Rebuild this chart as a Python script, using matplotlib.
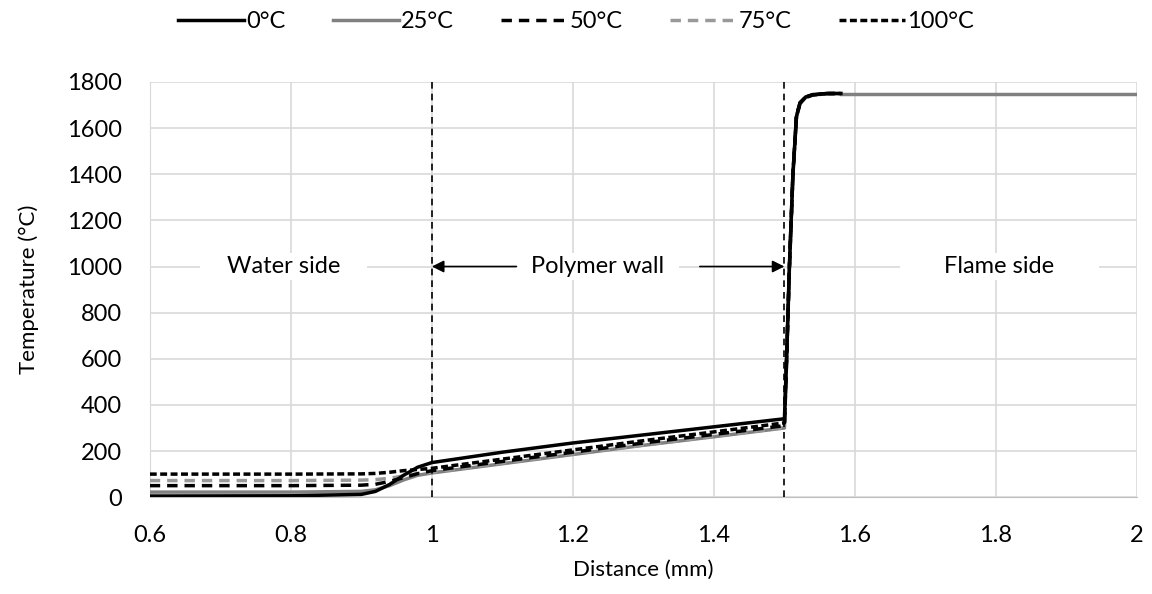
import matplotlib.pyplot as plt

plt.rcParams['font.family'] = ['Lato', 'DejaVu Sans']

# distance (mm) and temperature (°C)
x_wall = [0.60, 0.80, 0.90, 0.92, 0.94, 0.96, 0.98, 1.00, 1.10, 1.20, 1.30, 1.40, 1.50,
          1.503, 1.507, 1.512, 1.517, 1.522, 1.53, 1.54, 1.56, 1.58]
t_0 = [5, 6, 12, 25, 55, 95, 130, 150, 195, 235, 270, 305, 340,
       600, 1000, 1400, 1650, 1710, 1735, 1745, 1750, 1750]
t_25 = [22, 22, 25, 32, 50, 75, 95, 105, 145, 185, 225, 262, 300,
        580, 980, 1390, 1645, 1705, 1732, 1743, 1749, 1750]
t_50 = [50, 50, 52, 56, 68, 85, 102, 115, 155, 195, 235, 272, 310,
        590, 990, 1395, 1648, 1708, 1733, 1744, 1750, 1750]
t_75 = [72, 72, 74, 76, 82, 92, 102, 108, 148, 188, 226, 264, 302,
        585, 985, 1392, 1646, 1706, 1732, 1743, 1749, 1750]
t_100 = [100, 100, 101, 103, 108, 115, 120, 125, 165, 205, 245, 283, 322,
         595, 995, 1398, 1649, 1709, 1734, 1745, 1750, 1750]
x_flame = [1.58, 2.0]
t_flame = [1750, 1750]

fig = plt.figure(figsize=(11.52, 5.94), dpi=100)
ax = fig.add_axes([0.130, 0.163, 0.857, 0.699])

ax.plot(x_flame, t_flame, color='#808080', lw=2.5, zorder=3)
ax.plot(x_wall, t_25, color='#808080', lw=2.5, label='25°C', zorder=3)
ax.plot(x_wall, t_75, color='#999999', lw=2.5, ls=(0, (3, 2)), label='75°C', zorder=4)
ax.plot(x_wall, t_0, color='black', lw=2.5, label='0°C', zorder=5)
ax.plot(x_wall, t_50, color='black', lw=2.5, ls=(0, (3, 2)), label='50°C', zorder=6)
ax.plot(x_wall, t_100, color='black', lw=2.5, ls=(0, (2, 1)), label='100°C', zorder=7)

ax.axvline(1.0, color='black', lw=1.2, ls=(0, (4, 3)), zorder=8)
ax.axvline(1.5, color='black', lw=1.2, ls=(0, (4, 3)), zorder=8)

ax.set_xlim(0.6, 2.0)
ax.set_ylim(0, 1800)
ax.set_xticks([0.6, 0.8, 1.0, 1.2, 1.4, 1.6, 1.8, 2.0])
ax.set_xticklabels(['0.6', '0.8', '1', '1.2', '1.4', '1.6', '1.8', '2'])
ax.set_yticks(range(0, 1801, 200))
ax.grid(True, color='#d9d9d9', lw=1.2, zorder=0)
ax.set_axisbelow(True)
ax.tick_params(length=0, labelsize=17)
ax.tick_params(axis='x', pad=20)
ax.tick_params(axis='y', pad=20)
for s in ['top', 'right']:
    ax.spines[s].set_visible(False)
ax.spines['left'].set_color('#d9d9d9')
ax.spines['bottom'].set_color('#bfbfbf')
ax.set_xlabel('Distance (mm)', fontsize=16, labelpad=10)
ax.set_ylabel('Temperature (°C)', fontsize=16, labelpad=20)

box = dict(facecolor='white', edgecolor='none', pad=2)
ax.text(0.79, 1000, '    Water side    ', ha='center', va='center', fontsize=17, bbox=box, zorder=9)
ax.text(1.805, 1000, '       Flame side       ', ha='center', va='center', fontsize=17, bbox=box, zorder=9)
ax.text(1.235, 1000, '  Polymer wall  ', ha='center', va='center', fontsize=17, bbox=box, zorder=9)
arr = dict(arrowstyle='-|>', color='black', lw=1.2, mutation_scale=18, shrinkA=0, shrinkB=0)
ax.annotate('', xy=(1.0, 1000), xytext=(1.12, 1000), arrowprops=arr, zorder=9)
ax.annotate('', xy=(1.5, 1000), xytext=(1.38, 1000), arrowprops=arr, zorder=9)

handles, labels = ax.get_legend_handles_labels()
order = [labels.index(l) for l in ['0°C', '25°C', '50°C', '75°C', '100°C']]
fig.legend([handles[i] for i in order], [labels[i] for i in order],
           loc='center', bbox_to_anchor=(0.5, 0.963), ncol=5, frameon=False,
           fontsize=17, handlelength=2.8, handletextpad=0.1, columnspacing=2.0)

fig.savefig('out.png', dpi=100)
